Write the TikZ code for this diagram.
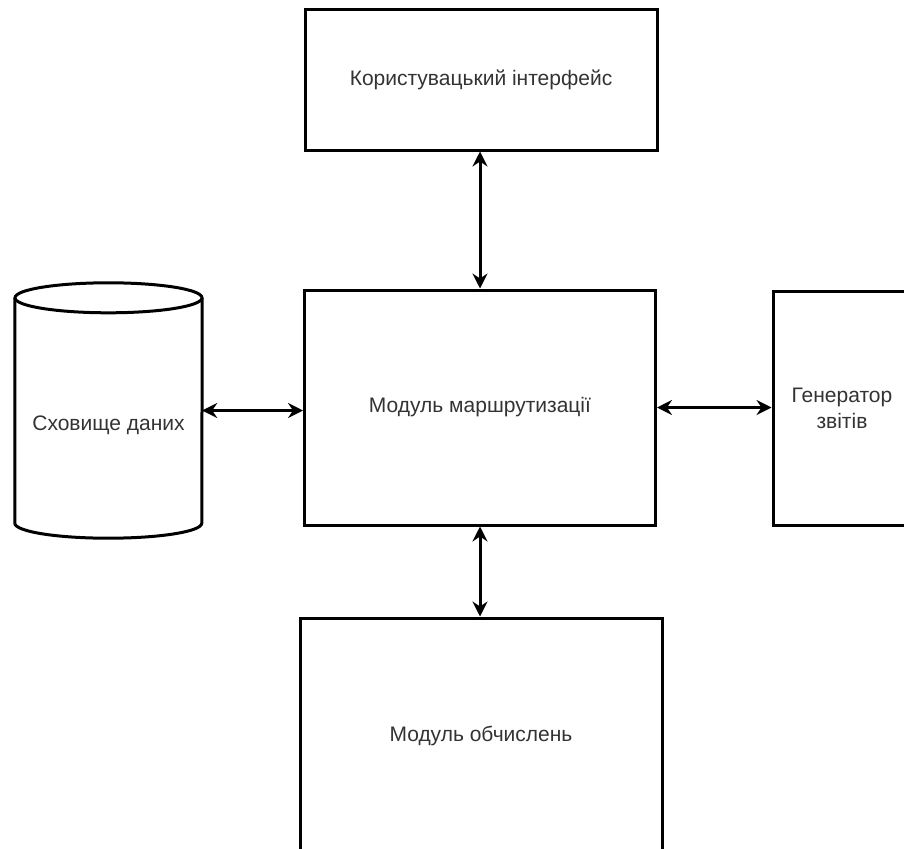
\documentclass[tikz,border=0pt]{standalone}
\usepackage{fontspec}
\setmainfont{Liberation Sans}
\usetikzlibrary{arrows.meta}
\definecolor{txtgray}{HTML}{333333}

\begin{document}
\begin{tikzpicture}[x=1pt,y=-1pt,>={Stealth[length=15pt,width=15pt,inset=5pt]},
  line join=miter,font=\fontsize{21}{26}\selectfont,
  box/.style={draw,line width=3pt,rectangle,inner sep=0pt,text=txtgray,align=center},
  link/.style={<->,line width=3pt}]

  \clip (0,0) rectangle (904,848);

  % modules
  \node[box,minimum width=352pt,minimum height=140pt] (ui) at (481,80) {Користувацький інтерфейс};
  \node[box,minimum width=351pt,minimum height=235pt] (router) at (480,407.5) {Модуль маршрутизації};
  \node[box,minimum width=138pt,minimum height=234pt] (reports) at (842,408) {Генератор\\звітів};
  \node[box,minimum width=362pt,minimum height=236pt] (calc) at (481,736) {Модуль обчислень};

  % data storage (cylinder)
  \node[inner sep=0pt,minimum width=187pt,minimum height=225pt] (store) at (108.5,410.5) {};
  \draw[line width=3pt] (store.north) ellipse[x radius=93.5,y radius=15];
  \draw[line width=3pt] (store.north west) -- (store.south west)
    arc[start angle=180,end angle=0,x radius=93.5,y radius=15] -- (store.north east);
  \node[text=txtgray] (storelabel) at (108.5,425) {Сховище даних};

  % connectors
  \draw[link] (ui.south -| router.north) -- (router.north);
  \draw[link] (store.east) -- (store.east -| router.west);
  \draw[link] (router.east) -- (router.east -| reports.west);
  \draw[link] (router.south) -- (router.south |- calc.north);
\end{tikzpicture}
\end{document}
